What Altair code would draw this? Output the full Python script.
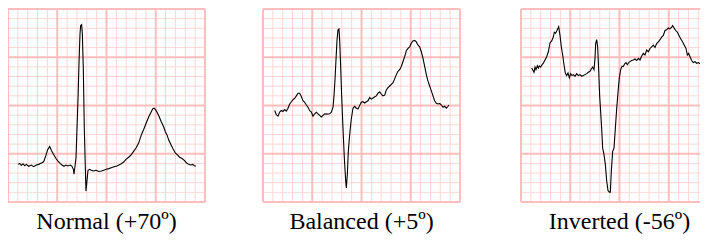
import altair as alt
import pandas as pd

# ECG traces: time in ms, voltage in mV (isoelectric baseline ~ 0)
normal_t = [40.6, 47.4, 54.1, 60.9, 67.7, 74.4, 83.9, 94.8, 104.2, 115.1, 124.5, 135.4, 144.9, 154.3, 161.1,
            169.2, 176.0, 185.4, 194.9, 203.0, 212.5, 219.3, 227.4, 235.5, 243.6, 253.1, 259.9, 265.3, 268.0,
            272.1, 276.1, 280.2, 284.3, 288.3, 292.4, 295.1, 299.1, 301.9, 305.9, 309.9, 314.0, 316.7, 320.8,
            324.9, 331.6, 338.4, 347.9, 357.4, 368.2, 379.0, 388.5, 399.3, 408.8, 419.6, 430.4, 442.6, 452.1,
            460.2, 469.7, 479.2, 490.0, 500.8, 510.3, 519.8, 530.6, 541.4, 550.9, 560.4, 571.2, 580.7, 587.5,
            592.9, 598.3, 606.4, 614.5, 622.7, 632.1, 638.9, 645.7, 652.4, 661.9, 670.0, 679.5, 689.0, 697.1,
            706.6, 716.0, 724.2, 733.7, 741.8, 749.9, 756.7, 763.4]
normal_v = [0.000, 0.010, -0.010, 0.007, -0.014, 0.000, -0.020, -0.007, -0.024, -0.007, 0.000, 0.014, 0.027,
            0.095, 0.152, 0.186, 0.146, 0.102, 0.061, 0.034, 0.007, -0.007, -0.020, -0.007, -0.017, -0.007,
            -0.020, -0.051, -0.102, -0.017, 0.068, 0.372, 0.677, 1.049, 1.354, 1.438, 1.448, 1.354, 0.981,
            0.372, -0.034, -0.277, -0.169, -0.061, -0.051, -0.061, -0.068, -0.061, -0.074, -0.068, -0.061,
            -0.051, -0.044, -0.034, -0.024, -0.017, -0.003, 0.007, 0.024, 0.051, 0.074, 0.102, 0.135, 0.169,
            0.220, 0.305, 0.362, 0.423, 0.491, 0.541, 0.575, 0.582, 0.569, 0.535, 0.491, 0.440, 0.389, 0.338,
            0.305, 0.254, 0.203, 0.162, 0.118, 0.095, 0.074, 0.061, 0.041, 0.017, 0.000, -0.007, 0.000,
            -0.014, -0.017]

balanced_t = [47.4, 54.1, 60.9, 67.7, 74.4, 81.2, 88.0, 94.8, 101.5, 108.3, 115.1, 121.8, 128.6, 135.4, 142.1,
              148.9, 155.7, 162.4, 169.2, 176.0, 182.7, 189.5, 196.3, 203.0, 209.8, 216.6, 223.3, 230.1, 236.9,
              243.6, 250.4, 257.2, 270.7, 277.5, 284.3, 288.3, 292.4, 296.4, 300.5, 304.6, 308.6, 311.3, 315.4,
              319.4, 324.9, 330.3, 335.7, 338.4, 342.5, 346.5, 351.9, 358.7, 365.5, 372.2, 379.0, 385.8, 392.5,
              399.3, 406.1, 412.8, 419.6, 426.4, 433.2, 439.9, 446.7, 453.5, 460.2, 467.0, 473.8, 480.5, 487.3,
              494.1, 500.8, 507.6, 514.4, 521.1, 527.9, 534.7, 541.4, 548.2, 555.0, 561.7, 568.5, 575.3, 582.0,
              588.8, 595.6, 602.4, 609.1, 615.9, 622.7, 629.4, 636.2, 643.0, 649.7, 656.5, 663.3, 670.0, 676.8,
              683.6, 690.3, 697.1, 703.9, 710.6, 717.4, 724.2, 730.9, 737.7, 744.5, 751.2, 755.3]
balanced_v = [0.017, -0.027, -0.041, 0.000, 0.017, 0.007, 0.027, 0.010, 0.041, 0.085, 0.108, 0.129, 0.142,
              0.169, 0.196, 0.196, 0.162, 0.118, 0.102, 0.074, 0.051, 0.017, 0.000, -0.041, -0.017, 0.000,
              -0.017, -0.034, -0.051, -0.034, -0.017, -0.020, -0.017, 0.000, 0.051, 0.169, 0.338, 0.541, 0.744,
              0.853, 0.863, 0.744, 0.474, 0.169, -0.169, -0.474, -0.711, -0.785, -0.643, -0.406, -0.237, -0.068,
              0.041, 0.061, 0.041, 0.034, 0.068, 0.102, 0.108, 0.095, 0.108, 0.118, 0.152, 0.135, 0.146, 0.159,
              0.169, 0.196, 0.210, 0.186, 0.169, 0.176, 0.230, 0.254, 0.271, 0.288, 0.305, 0.345, 0.389, 0.423,
              0.440, 0.474, 0.525, 0.575, 0.636, 0.660, 0.677, 0.717, 0.738, 0.744, 0.728, 0.694, 0.677, 0.626,
              0.558, 0.474, 0.389, 0.321, 0.271, 0.220, 0.169, 0.118, 0.091, 0.085, 0.091, 0.074, 0.051, 0.061,
              0.041, 0.061, 0.074]

inverted_t = [43.3, 47.4, 52.8, 56.9, 60.9, 66.3, 70.4, 74.4, 79.9, 85.3, 90.7, 97.5, 104.2, 111.0, 117.8,
              124.5, 131.3, 135.4, 140.8, 147.5, 153.0, 158.4, 163.8, 169.2, 174.6, 180.0, 185.4, 190.9, 196.3,
              201.7, 207.1, 212.5, 219.3, 226.1, 232.8, 239.6, 246.4, 253.1, 259.9, 266.7, 273.4, 280.2, 285.6,
              291.0, 296.4, 300.5, 303.2, 307.3, 311.3, 315.4, 319.4, 323.5, 327.6, 331.6, 337.0, 342.5, 347.9,
              353.3, 358.7, 362.8, 366.8, 372.2, 377.7, 383.1, 388.5, 393.9, 399.3, 404.7, 410.1, 415.6, 421.0,
              426.4, 431.8, 437.2, 442.6, 449.4, 456.2, 462.9, 469.7, 476.5, 483.2, 490.0, 496.8, 503.5, 510.3,
              517.1, 523.8, 530.6, 537.4, 544.1, 550.9, 557.7, 564.5, 571.2, 578.0, 584.8, 591.5, 598.3, 605.1,
              611.8, 615.9, 621.3, 628.1, 634.9, 641.6, 648.4, 656.5, 663.3, 670.0, 675.5, 680.9, 686.3, 693.0,
              699.8, 706.6, 713.4, 720.2, 726.9, 733.7, 740.5, 747.3, 751.3, 756.7]
inverted_v = [0.068, 0.051, 0.024, 0.078, 0.051, 0.091, 0.068, 0.091, 0.078, 0.102, 0.118, 0.152, 0.186, 0.237,
              0.328, 0.349, 0.389, 0.440, 0.430, 0.464, 0.497, 0.406, 0.288, 0.203, 0.102, 0.017, -0.010, 0.017,
              -0.034, 0.010, -0.010, 0.000, -0.017, 0.010, -0.010, 0.000, -0.017, -0.010, 0.000, 0.010, 0.024,
              0.034, 0.058, 0.078, 0.051, 0.169, 0.321, 0.362, 0.288, 0.051, -0.220, -0.389, -0.558, -0.761,
              -0.829, -0.931, -1.100, -1.201, -1.218, -1.218, -0.998, -0.795, -0.761, -0.558, -0.355, -0.186,
              -0.034, 0.051, 0.085, 0.085, 0.112, 0.125, 0.102, 0.125, 0.135, 0.146, 0.152, 0.162, 0.146, 0.169,
              0.152, 0.193, 0.220, 0.203, 0.254, 0.237, 0.271, 0.288, 0.305, 0.281, 0.321, 0.338, 0.362, 0.389,
              0.406, 0.457, 0.464, 0.484, 0.474, 0.491, 0.508, 0.484, 0.457, 0.440, 0.406, 0.372, 0.338, 0.305,
              0.271, 0.203, 0.220, 0.186, 0.146, 0.125, 0.135, 0.118, 0.125, 0.112, 0.125, 0.102, 0.091, 0.118,
              0.125]

titles = ["Normal (+70º)", "Balanced (+5º)", "Inverted (-56º)"]
y_lows = [-0.39, -0.931, -1.32]     # voltage at the bottom edge of each paper strip, mV

# layout (page geometry): the drawing must stay inside the page's 8px body margin
MAJOR = "#ffbdbd"
MINOR = "#ffd6d6"
PX_PER_MS = 197 / 800
W, H = 692, 226
TOP, BOTTOM = 1, 194                # strip top / bottom inside the plot, px
PX_PER_MV = (BOTTOM - TOP) / 2.0
OFFSETS = [0, 255 / PX_PER_MS, 513 / PX_PER_MS]   # panel start along the shared time axis, ms
XDOM = [0, W / PX_PER_MS]
YDOM = [-(H - BOTTOM) / PX_PER_MV, 2.0 + TOP / PX_PER_MV]
LABEL_Y = -(221 - BOTTOM) / PX_PER_MV

series = [(normal_t, normal_v), (balanced_t, balanced_v), (inverted_t, inverted_v)]

trace_rows, v_rows, h_rows, label_rows = [], [], [], []
for p, ((ts, vs), lo, off) in enumerate(zip(series, y_lows, OFFSETS)):
    for t, v in zip(ts, vs):
        if t + off <= XDOM[1]:
            trace_rows.append({"panel": p, "x": t + off, "y": v - lo})
    x_end = min(off + 800, XDOM[1])
    for k in range(21):
        kind = "major" if k % 5 == 0 else "minor"
        if off + 40 * k <= XDOM[1]:
            v_rows.append({"x": off + 40 * k, "y0": 0.0, "y1": 2.0, "kind": kind})
        h_rows.append({"y": round(0.1 * k, 4), "x0": off, "x1": x_end, "kind": kind})
    label_rows.append({"x": off + 400, "y": LABEL_Y, "label": titles[p]})

traces = pd.DataFrame(trace_rows)
vlines = pd.DataFrame(v_rows)
hlines = pd.DataFrame(h_rows)
labels = pd.DataFrame(label_rows)

xs = alt.Scale(domain=XDOM, nice=False, zero=False)
ys = alt.Scale(domain=YDOM, nice=False, zero=False)


def grid(kind, color, width):
    v = alt.Chart(vlines).transform_filter(alt.datum.kind == kind).mark_rule(
        color=color, strokeWidth=width
    ).encode(x=alt.X("x:Q", scale=xs, axis=None), y=alt.Y("y0:Q", scale=ys, axis=None), y2="y1:Q")
    h = alt.Chart(hlines).transform_filter(alt.datum.kind == kind).mark_rule(
        color=color, strokeWidth=width
    ).encode(y=alt.Y("y:Q", scale=ys, axis=None), x=alt.X("x0:Q", scale=xs, axis=None), x2="x1:Q")
    return v + h


lines = alt.Chart(traces).mark_line(color="black", strokeWidth=1.1, clip=True).encode(
    x=alt.X("x:Q", scale=xs, axis=None),
    y=alt.Y("y:Q", scale=ys, axis=None),
    detail="panel:N",
)

text = alt.Chart(labels).mark_text(
    font="Liberation Serif", fontSize=24, color="black", baseline="alphabetic", align="center"
).encode(
    x=alt.X("x:Q", scale=xs, axis=None),
    y=alt.Y("y:Q", scale=ys, axis=None),
    text="label:N",
)

chart = alt.layer(grid("minor", MINOR, 1), grid("major", MAJOR, 2), lines, text).properties(
    width=W, height=H,
    autosize=alt.AutoSizeParams(type="none"),
    padding=0,
).configure_view(stroke=None)

chart.save("out.html", embed_options={"renderer": "svg", "actions": False})
